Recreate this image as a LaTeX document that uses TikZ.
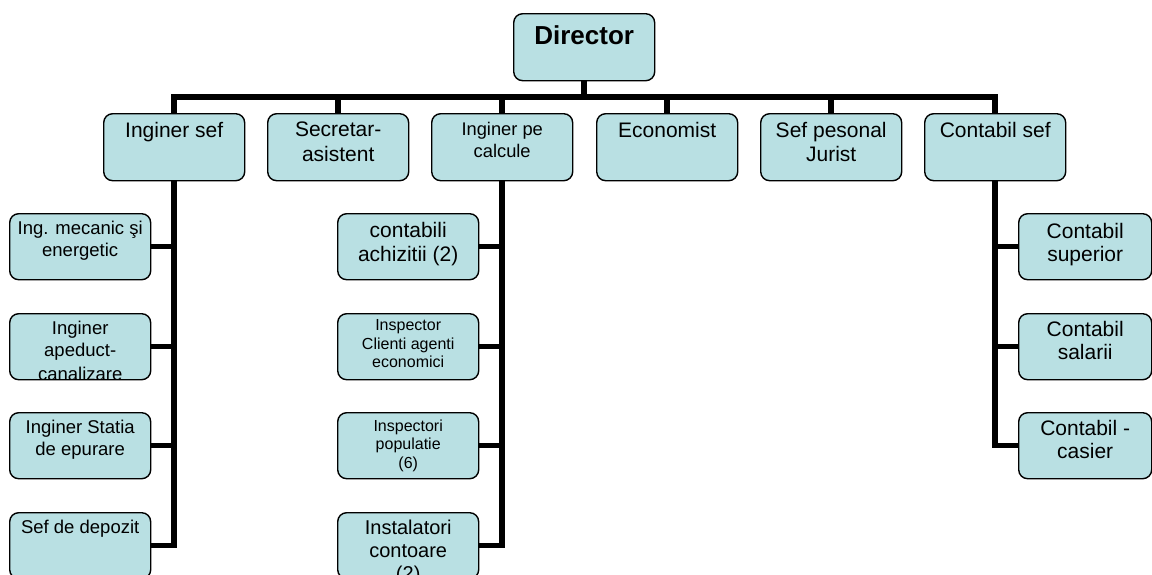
\documentclass[tikz,border=0pt]{standalone}
\usepackage{fontspec}
\setmainfont{Liberation Sans}
\definecolor{boxfill}{RGB}{185,224,227}

\begin{document}
\begin{tikzpicture}[x=1pt,y=-1pt,
  unit/.style={draw=black,fill=boxfill,line width=1.4pt,rounded corners=9pt,
    minimum width=141pt,minimum height=66pt,inner sep=0pt,anchor=north west},
  tag/.style={anchor=north,align=center,inner sep=0pt},
  link/.style={line width=5.5pt},
  ftop/.style={font=\fontsize{21}{24.5}\selectfont},
  fsmall/.style={font=\fontsize{18.3}{22}\selectfont},
  fleft/.style={font=\fontsize{18.5}{21.5}\selectfont},
  ftiny/.style={font=\fontsize{16}{18.5}\selectfont},
  fright/.style={font=\fontsize{21}{23}\selectfont}]
  \useasboundingbox (0,0) rectangle (1152,574);

  % 方框
  \node[unit,minimum height=67pt] (dir) at (513,13) {};
  \node[unit,minimum height=67pt] (isef) at (103,113) {};
  \node[unit,minimum height=67pt] (secr) at (267,113) {};
  \node[unit,minimum height=67pt] (icalc) at (431,113) {};
  \node[unit,minimum height=67pt] (econ) at (596,113) {};
  \node[unit,minimum height=67pt] (jur) at (760,113) {};
  \node[unit,minimum height=67pt] (csef) at (924,113) {};

  \node[unit] (mec) at (9,213) {};
  \node[unit] (apa) at (9,313) {};
  \node[unit] (stat) at (9,412) {};
  \node[unit] (dep) at (9,512) {};

  \node[unit] (achiz) at (337,213) {};
  \node[unit] (insp) at (337,313) {};
  \node[unit] (pop) at (337,412) {};
  \node[unit] (inst) at (337,512) {};

  \node[unit,minimum width=133pt] (csup) at (1018,213) {};
  \node[unit,minimum width=133pt] (csal) at (1018,313) {};
  \node[unit,minimum width=133pt] (cas) at (1018,412) {};

  % 连线
  \coordinate (bus) at (dir.south |- 0,97);
  \draw[link] (dir.south) -- (bus);
  \foreach \n in {isef,secr,icalc,econ,jur,csef}
    \draw[link] (bus) -| (\n.north);
  \foreach \c in {mec,apa,stat,dep}
    \draw[link] (isef.south) |- (\c.east);
  \foreach \c in {achiz,insp,pop,inst}
    \draw[link] (icalc.south) |- (\c.east);
  \foreach \c in {csup,csal,cas}
    \draw[link] (csef.south) |- (\c.west);

  % 文字
  \node[tag,font=\fontsize{26}{30}\selectfont\bfseries] (dirT) at ([yshift=-12pt]dir.north) {Director};
  \node[tag,ftop] (isefT) at ([yshift=-9pt]isef.north) {Inginer sef};
  \node[tag,ftop] (secrT) at ([yshift=-9pt]secr.north) {Secretar-\\asistent};
  \node[tag,fsmall] (icalcT) at ([yshift=-8.7pt]icalc.north) {Inginer pe\\calcule};
  \node[tag,ftop] (econT) at ([yshift=-9pt]econ.north) {Economist};
  \node[tag,ftop] (jurT) at ([yshift=-9pt]jur.north) {Sef pesonal\\Jurist};
  \node[tag,ftop] (csefT) at ([yshift=-9pt]csef.north) {Contabil sef};

  \node[tag,fleft] (mecT) at ([yshift=-8pt]mec.north) {Ing. mecanic şi\\energetic};
  \begin{scope}
    \clip[rounded corners=9pt] (apa.north west) rectangle ([yshift=1pt]apa.south east);
    \node[tag,fleft] (apaT) at ([yshift=-8pt]apa.north) {Inginer\\apeduct-\\[2.5pt]canalizare};
  \end{scope}
  \node[tag,fleft] (statT) at ([yshift=-8pt]stat.north) {Inginer Statia\\de epurare};
  \node[tag,fleft] (depT) at ([yshift=-7.5pt]dep.north) {Sef de depozit};

  \node[tag,ftop] (achizT) at ([yshift=-9pt]achiz.north) {contabili\\achizitii (2)};
  \node[tag,ftiny] (inspT) at ([yshift=-6.5pt]insp.north) {Inspector\\Clienti agenti\\economici};
  \node[tag,ftiny] (popT) at ([yshift=-7.5pt]pop.north) {Inspectori\\populatie\\(6)};
  \node[tag,font=\fontsize{20}{23}\selectfont] (instT) at ([yshift=-7.7pt]inst.north) {Instalatori\\contoare\\(2)};

  \node[tag,fright] (csupT) at ([yshift=-10pt]csup.north) {Contabil\\superior};
  \node[tag,fright] (csalT) at ([yshift=-8.5pt]csal.north) {Contabil\\salarii};
  \node[tag,fright] (casT) at ([yshift=-7.8pt]cas.north) {Contabil -\\casier};
\end{tikzpicture}
\end{document}
